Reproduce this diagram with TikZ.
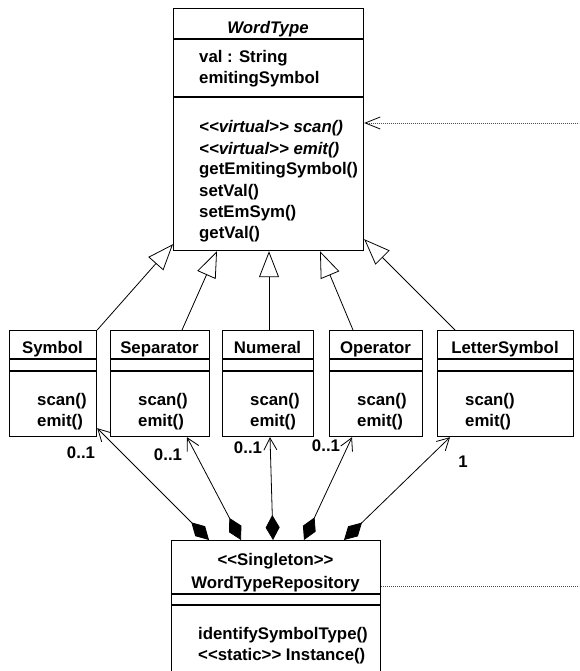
\documentclass[tikz,border=0pt]{standalone}
\usepackage{fontspec}
\setmainfont{Liberation Sans}[Ligatures=TeXOff]
\usetikzlibrary{arrows.meta}
\begin{document}
\begin{tikzpicture}[x=1pt,y=-1pt,
  every node/.style={font=\fontsize{16.8}{21}\selectfont\bfseries},
  classbox/.style={draw, line width=1.2pt, anchor=north west, inner sep=0pt},
  member/.style={anchor=base west, inner sep=0pt},
  title/.style={anchor=base, inner sep=0pt},
  mult/.style={inner sep=0pt},
  compart/.style={line width=1.2pt},
  inherit/.style={line width=0.8pt, -{Triangle[open, length=26pt, width=20pt, line width=0.8pt]}},
  owns/.style={line width=0.8pt, {Diamond[length=25pt, width=14pt]}-{Straight Barb[length=12pt, width=13pt, line width=0.8pt]}},
  noteline/.style={line width=0.8pt, black!70, dash pattern=on 1pt off 1pt}
]
\clip (0,0) rectangle (579,671);
\fill[white] (0,0) rectangle (579,671);

% ---- WordType ----
\node[classbox, minimum width=190pt, minimum height=242pt] (wt) at (173,8) {};
\draw[compart] (173,39) -- (363,39);
\draw[compart] (173,97) -- (363,97);
\node[title, font=\fontsize{16.8}{21}\selectfont\bfseries\itshape] (wt-name) at (268,34) {WordType};
\node[member] (wt-a1) at (199,63) {val : String};
\node[member] (wt-a2) at (199,84) {emitingSymbol};
\node[member] (wt-m1) at (199,133) {\itshape <<virtual>> scan()};
\node[member] (wt-m2) at (199,154) {\itshape <<virtual>> emit()};
\node[member] (wt-m3) at (199,175) {getEmitingSymbol()};
\node[member] (wt-m4) at (199,196) {setVal()};
\node[member] (wt-m5) at (199,217) {setEmSym()};
\node[member] (wt-m6) at (199,238) {getVal()};

% ---- concrete word types ----
\node[classbox, minimum width=87pt, minimum height=106pt] (sym) at (9,330) {};
\node[classbox, minimum width=99pt, minimum height=106pt] (sep) at (110,330) {};
\node[classbox, minimum width=91pt, minimum height=106pt] (num) at (222,330) {};
\node[classbox, minimum width=93pt, minimum height=106pt] (op) at (329,330) {};
\node[classbox, minimum width=136pt, minimum height=106pt] (ls) at (437,330) {};
\foreach \l/\r in {9/96, 110/209, 222/313, 329/422, 437/573} {
  \draw[compart] (\l,359) -- (\r,359);
  \draw[compart] (\l,371) -- (\r,371);
}
\node[title] (sym-name) at (52.5,353) {Symbol};
\node[title] (sep-name) at (159.5,353) {Separator};
\node[title] (num-name) at (267.5,353) {Numeral};
\node[title] (op-name) at (375.5,353) {Operator};
\node[title] (ls-name) at (505,353) {LetterSymbol};
\node[member] (sym-m1) at (37,405) {scan()};
\node[member] (sym-m2) at (37,426) {emit()};
\node[member] (sep-m1) at (138,405) {scan()};
\node[member] (sep-m2) at (138,426) {emit()};
\node[member] (num-m1) at (250,405) {scan()};
\node[member] (num-m2) at (250,426) {emit()};
\node[member] (op-m1) at (357,405) {scan()};
\node[member] (op-m2) at (357,426) {emit()};
\node[member] (ls-m1) at (465,405) {scan()};
\node[member] (ls-m2) at (465,426) {emit()};

% ---- WordTypeRepository ----
\node[classbox, minimum width=209pt, minimum height=150pt] (rep) at (171,540) {};
\draw[compart] (171,594) -- (380,594);
\draw[compart] (171,605) -- (380,605);
\node[title] (rep-st) at (275.5,565) {<<Singleton>>};
\node[title] (rep-name) at (275.5,588) {WordTypeRepository};
\node[member] (rep-m1) at (198,639) {identifySymbolType()};
\node[member] (rep-m2) at (198,660) {<<static>> Instance()};

% ---- generalisation ----
\draw[inherit] (sym.north east) -- ([yshift=7pt]wt.south west);
\draw[inherit] ([xshift=72pt]sep.north west) -- ([xshift=44pt]wt.south west);
\draw[inherit] ([xshift=47pt]num.north west) -- ([xshift=96pt]wt.south west);
\draw[inherit] ([xshift=24pt]op.north west) -- ([xshift=147pt]wt.south west);
\draw[inherit] ([xshift=18pt]ls.north west) -- ([yshift=12pt]wt.south east);

% ---- composition ----
\draw[owns] ([xshift=38pt]rep.north west) -- ([yshift=9pt]sym.south east);
\draw[owns] ([xshift=70pt]rep.north west) -- ([xshift=77pt]sep.south west);
\draw[owns] ([xshift=102pt]rep.north west) -- ([xshift=48pt]num.south west);
\draw[owns] ([xshift=133pt]rep.north west) -- ([xshift=23pt]op.south west);
\draw[owns] ([xshift=173pt]rep.north west) -- ([xshift=13pt]ls.south west);

\node[mult] (mul-sym) at (81,453) {0..1};
\node[mult] (mul-sep) at (168,455) {0..1};
\node[mult] (mul-num) at (248,448) {0..1};
\node[mult] (mul-op) at (326,446) {0..1};
\node[mult] (mul-ls) at (463,462) {1};

% ---- note links ----
\coordinate (wtnote) at (590,123);
\coordinate (repnote) at (590,586);
\draw[noteline, -{Straight Barb[length=15pt, width=12pt, line width=0.8pt, color=black]}] (wtnote) -- (wtnote -| wt.east);
\draw[noteline] (repnote -| rep.east) -- (repnote);
\end{tikzpicture}
\end{document}
